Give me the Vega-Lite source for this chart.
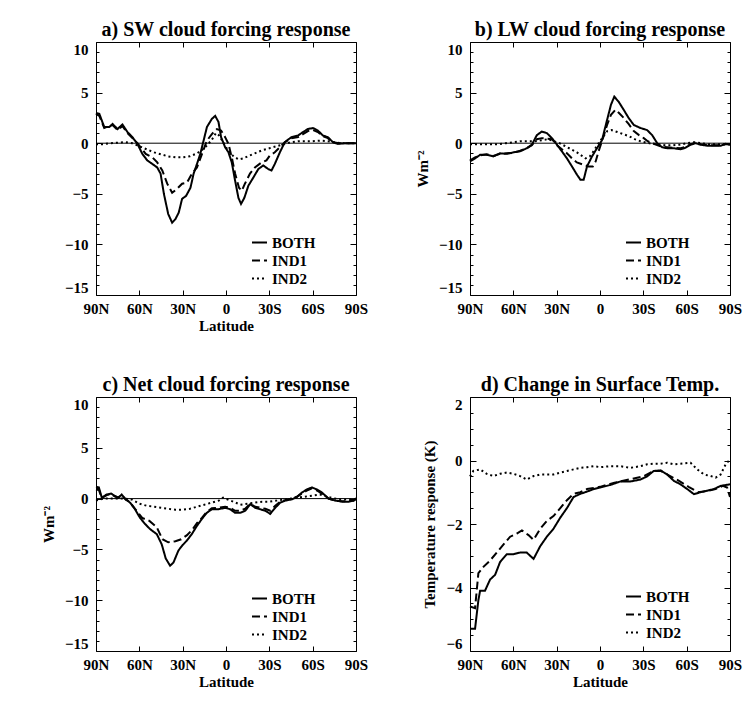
{
  "$schema": "https://vega.github.io/schema/vega-lite/v6.json",
  "background": "white",
  "padding": {"left": 40, "top": 19, "right": 5, "bottom": 5},
  "datasets": {
    "a": [
      {"lat":90,"v":3.0,"s":"BOTH"},{"lat":87.7,"v":2.9,"s":"BOTH"},{"lat":84.3,"v":1.6,"s":"BOTH"},{"lat":80.8,"v":1.6,"s":"BOTH"},{"lat":78.5,"v":1.9,"s":"BOTH"},{"lat":75.1,"v":1.4,"s":"BOTH"},{"lat":71.7,"v":1.85,"s":"BOTH"},{"lat":68.2,"v":1.1,"s":"BOTH"},{"lat":64.8,"v":0.6,"s":"BOTH"},{"lat":61.3,"v":-0.07,"s":"BOTH"},{"lat":57.9,"v":-1.06,"s":"BOTH"},{"lat":54.5,"v":-1.7,"s":"BOTH"},{"lat":51,"v":-2.05,"s":"BOTH"},{"lat":47.6,"v":-2.4,"s":"BOTH"},{"lat":45.3,"v":-3.0,"s":"BOTH"},{"lat":43,"v":-5.0,"s":"BOTH"},{"lat":40,"v":-7.0,"s":"BOTH"},{"lat":37.3,"v":-7.85,"s":"BOTH"},{"lat":35,"v":-7.5,"s":"BOTH"},{"lat":32.7,"v":-6.85,"s":"BOTH"},{"lat":30.4,"v":-5.5,"s":"BOTH"},{"lat":27.6,"v":-5.2,"s":"BOTH"},{"lat":24.6,"v":-4.4,"s":"BOTH"},{"lat":22.4,"v":-3.0,"s":"BOTH"},{"lat":20.1,"v":-2.05,"s":"BOTH"},{"lat":17.8,"v":-1.06,"s":"BOTH"},{"lat":15.5,"v":0.26,"s":"BOTH"},{"lat":13.2,"v":1.6,"s":"BOTH"},{"lat":9.8,"v":2.4,"s":"BOTH"},{"lat":7.5,"v":2.7,"s":"BOTH"},{"lat":5.2,"v":2.1,"s":"BOTH"},{"lat":3.4,"v":0.6,"s":"BOTH"},{"lat":0.6,"v":-0.4,"s":"BOTH"},{"lat":-1.7,"v":-0.9,"s":"BOTH"},{"lat":-4,"v":-1.9,"s":"BOTH"},{"lat":-6.3,"v":-3.7,"s":"BOTH"},{"lat":-8.6,"v":-5.4,"s":"BOTH"},{"lat":-10.4,"v":-6.0,"s":"BOTH"},{"lat":-12.7,"v":-5.4,"s":"BOTH"},{"lat":-15.5,"v":-4.2,"s":"BOTH"},{"lat":-18.9,"v":-3.4,"s":"BOTH"},{"lat":-22.4,"v":-2.55,"s":"BOTH"},{"lat":-25.8,"v":-2.2,"s":"BOTH"},{"lat":-29.2,"v":-2.55,"s":"BOTH"},{"lat":-31.5,"v":-2.7,"s":"BOTH"},{"lat":-33.8,"v":-2.05,"s":"BOTH"},{"lat":-37.3,"v":-0.9,"s":"BOTH"},{"lat":-40.7,"v":0.1,"s":"BOTH"},{"lat":-45.3,"v":0.6,"s":"BOTH"},{"lat":-49.9,"v":0.76,"s":"BOTH"},{"lat":-53.3,"v":1.1,"s":"BOTH"},{"lat":-56.7,"v":1.4,"s":"BOTH"},{"lat":-60.2,"v":1.5,"s":"BOTH"},{"lat":-63.6,"v":1.25,"s":"BOTH"},{"lat":-67.1,"v":0.76,"s":"BOTH"},{"lat":-70.5,"v":0.6,"s":"BOTH"},{"lat":-74,"v":0.1,"s":"BOTH"},{"lat":-77.4,"v":-0.07,"s":"BOTH"},{"lat":-82,"v":0,"s":"BOTH"},{"lat":-90,"v":0,"s":"BOTH"},
      {"lat":90,"v":2.9,"s":"IND1"},{"lat":87.7,"v":2.7,"s":"IND1"},{"lat":84.3,"v":1.5,"s":"IND1"},{"lat":80.8,"v":1.7,"s":"IND1"},{"lat":78.5,"v":1.8,"s":"IND1"},{"lat":75.1,"v":1.3,"s":"IND1"},{"lat":71.7,"v":1.7,"s":"IND1"},{"lat":68.2,"v":1.0,"s":"IND1"},{"lat":64.8,"v":0.5,"s":"IND1"},{"lat":61.3,"v":0,"s":"IND1"},{"lat":55.6,"v":-1.06,"s":"IND1"},{"lat":51,"v":-1.4,"s":"IND1"},{"lat":47.6,"v":-1.9,"s":"IND1"},{"lat":44.1,"v":-2.7,"s":"IND1"},{"lat":40.7,"v":-4.0,"s":"IND1"},{"lat":37.3,"v":-4.9,"s":"IND1"},{"lat":33.8,"v":-4.5,"s":"IND1"},{"lat":30.4,"v":-4.0,"s":"IND1"},{"lat":27,"v":-3.9,"s":"IND1"},{"lat":23.5,"v":-3.0,"s":"IND1"},{"lat":20.1,"v":-2.4,"s":"IND1"},{"lat":16.6,"v":-1.06,"s":"IND1"},{"lat":13.2,"v":0.26,"s":"IND1"},{"lat":9.8,"v":0.9,"s":"IND1"},{"lat":6.3,"v":1.4,"s":"IND1"},{"lat":3.4,"v":1.25,"s":"IND1"},{"lat":0.6,"v":0.6,"s":"IND1"},{"lat":-1.7,"v":-0.07,"s":"IND1"},{"lat":-4,"v":-1.4,"s":"IND1"},{"lat":-6.3,"v":-3.0,"s":"IND1"},{"lat":-9,"v":-4.4,"s":"IND1"},{"lat":-10.9,"v":-4.7,"s":"IND1"},{"lat":-13.1,"v":-4.0,"s":"IND1"},{"lat":-16.6,"v":-3.0,"s":"IND1"},{"lat":-20,"v":-2.4,"s":"IND1"},{"lat":-24.6,"v":-1.9,"s":"IND1"},{"lat":-28,"v":-1.7,"s":"IND1"},{"lat":-30.4,"v":-1.2,"s":"IND1"},{"lat":-33.8,"v":-0.9,"s":"IND1"},{"lat":-37.3,"v":-0.4,"s":"IND1"},{"lat":-40.7,"v":0.1,"s":"IND1"},{"lat":-45.3,"v":0.5,"s":"IND1"},{"lat":-49.9,"v":0.6,"s":"IND1"},{"lat":-53.3,"v":0.9,"s":"IND1"},{"lat":-56.7,"v":1.2,"s":"IND1"},{"lat":-60.2,"v":1.3,"s":"IND1"},{"lat":-63.6,"v":1.1,"s":"IND1"},{"lat":-67.1,"v":0.7,"s":"IND1"},{"lat":-70.5,"v":0.5,"s":"IND1"},{"lat":-74,"v":0.1,"s":"IND1"},{"lat":-78,"v":0,"s":"IND1"},{"lat":-90,"v":0,"s":"IND1"},
      {"lat":90,"v":-0.1,"s":"IND2"},{"lat":85,"v":-0.1,"s":"IND2"},{"lat":80,"v":0,"s":"IND2"},{"lat":75,"v":0.05,"s":"IND2"},{"lat":70,"v":0.1,"s":"IND2"},{"lat":65,"v":0,"s":"IND2"},{"lat":60,"v":-0.3,"s":"IND2"},{"lat":55,"v":-0.6,"s":"IND2"},{"lat":50,"v":-0.9,"s":"IND2"},{"lat":45,"v":-1.1,"s":"IND2"},{"lat":40,"v":-1.3,"s":"IND2"},{"lat":35,"v":-1.4,"s":"IND2"},{"lat":30,"v":-1.4,"s":"IND2"},{"lat":25,"v":-1.3,"s":"IND2"},{"lat":20,"v":-1.0,"s":"IND2"},{"lat":15,"v":-0.5,"s":"IND2"},{"lat":10,"v":0.3,"s":"IND2"},{"lat":7,"v":1.0,"s":"IND2"},{"lat":5,"v":0.8,"s":"IND2"},{"lat":2,"v":0.1,"s":"IND2"},{"lat":0,"v":-0.4,"s":"IND2"},{"lat":-3,"v":-1.0,"s":"IND2"},{"lat":-6,"v":-1.4,"s":"IND2"},{"lat":-9,"v":-1.6,"s":"IND2"},{"lat":-12,"v":-1.5,"s":"IND2"},{"lat":-15,"v":-1.3,"s":"IND2"},{"lat":-20,"v":-1.0,"s":"IND2"},{"lat":-25,"v":-0.7,"s":"IND2"},{"lat":-30,"v":-0.5,"s":"IND2"},{"lat":-35,"v":-0.3,"s":"IND2"},{"lat":-40,"v":-0.1,"s":"IND2"},{"lat":-45,"v":0.1,"s":"IND2"},{"lat":-50,"v":0.2,"s":"IND2"},{"lat":-55,"v":0.2,"s":"IND2"},{"lat":-60,"v":0.2,"s":"IND2"},{"lat":-65,"v":0.25,"s":"IND2"},{"lat":-70,"v":0.2,"s":"IND2"},{"lat":-75,"v":0.1,"s":"IND2"},{"lat":-80,"v":0,"s":"IND2"},{"lat":-90,"v":0,"s":"IND2"}
    ],
    "b": [
      {"lat":90,"v":-1.8,"s":"BOTH"},{"lat":86.5,"v":-1.5,"s":"BOTH"},{"lat":83,"v":-1.15,"s":"BOTH"},{"lat":78.4,"v":-1.15,"s":"BOTH"},{"lat":73.8,"v":-1.3,"s":"BOTH"},{"lat":69.2,"v":-1.0,"s":"BOTH"},{"lat":64.5,"v":-1.05,"s":"BOTH"},{"lat":59.9,"v":-0.9,"s":"BOTH"},{"lat":55.3,"v":-0.8,"s":"BOTH"},{"lat":50.7,"v":-0.5,"s":"BOTH"},{"lat":47.2,"v":-0.15,"s":"BOTH"},{"lat":43.7,"v":0.8,"s":"BOTH"},{"lat":40.3,"v":1.15,"s":"BOTH"},{"lat":36.8,"v":1.0,"s":"BOTH"},{"lat":33.3,"v":0.5,"s":"BOTH"},{"lat":29.8,"v":-0.15,"s":"BOTH"},{"lat":26.4,"v":-0.8,"s":"BOTH"},{"lat":22.9,"v":-1.5,"s":"BOTH"},{"lat":19.4,"v":-2.3,"s":"BOTH"},{"lat":16,"v":-3.1,"s":"BOTH"},{"lat":13.6,"v":-3.6,"s":"BOTH"},{"lat":11.3,"v":-3.6,"s":"BOTH"},{"lat":9,"v":-2.3,"s":"BOTH"},{"lat":5.5,"v":-1.3,"s":"BOTH"},{"lat":2.1,"v":-0.5,"s":"BOTH"},{"lat":-1.4,"v":0.3,"s":"BOTH"},{"lat":-4.9,"v":2.3,"s":"BOTH"},{"lat":-7.6,"v":3.8,"s":"BOTH"},{"lat":-9.9,"v":4.6,"s":"BOTH"},{"lat":-12.9,"v":4.1,"s":"BOTH"},{"lat":-16.4,"v":3.3,"s":"BOTH"},{"lat":-19.8,"v":2.5,"s":"BOTH"},{"lat":-23.4,"v":1.8,"s":"BOTH"},{"lat":-28,"v":1.5,"s":"BOTH"},{"lat":-32.6,"v":1.3,"s":"BOTH"},{"lat":-36.1,"v":0.8,"s":"BOTH"},{"lat":-39.6,"v":0,"s":"BOTH"},{"lat":-43,"v":-0.4,"s":"BOTH"},{"lat":-46.5,"v":-0.5,"s":"BOTH"},{"lat":-51.1,"v":-0.5,"s":"BOTH"},{"lat":-55.8,"v":-0.6,"s":"BOTH"},{"lat":-59.2,"v":-0.45,"s":"BOTH"},{"lat":-62.7,"v":-0.15,"s":"BOTH"},{"lat":-66.2,"v":0,"s":"BOTH"},{"lat":-69.7,"v":-0.15,"s":"BOTH"},{"lat":-74.3,"v":-0.25,"s":"BOTH"},{"lat":-78.9,"v":-0.25,"s":"BOTH"},{"lat":-83.5,"v":-0.25,"s":"BOTH"},{"lat":-87,"v":-0.05,"s":"BOTH"},{"lat":-90,"v":-0.15,"s":"BOTH"},
      {"lat":90,"v":-1.7,"s":"IND1"},{"lat":86.5,"v":-1.4,"s":"IND1"},{"lat":83,"v":-1.2,"s":"IND1"},{"lat":78.4,"v":-1.1,"s":"IND1"},{"lat":73.8,"v":-1.25,"s":"IND1"},{"lat":69.2,"v":-1.05,"s":"IND1"},{"lat":64.5,"v":-1.0,"s":"IND1"},{"lat":59.9,"v":-0.95,"s":"IND1"},{"lat":55.3,"v":-0.75,"s":"IND1"},{"lat":50.7,"v":-0.5,"s":"IND1"},{"lat":47.2,"v":-0.2,"s":"IND1"},{"lat":43.7,"v":0.4,"s":"IND1"},{"lat":40.3,"v":0.5,"s":"IND1"},{"lat":36.8,"v":0.45,"s":"IND1"},{"lat":33.3,"v":0.4,"s":"IND1"},{"lat":29.8,"v":-0.2,"s":"IND1"},{"lat":26.4,"v":-0.6,"s":"IND1"},{"lat":22.9,"v":-1.0,"s":"IND1"},{"lat":19.4,"v":-1.5,"s":"IND1"},{"lat":16,"v":-1.9,"s":"IND1"},{"lat":12,"v":-2.1,"s":"IND1"},{"lat":8,"v":-2.3,"s":"IND1"},{"lat":5,"v":-2.3,"s":"IND1"},{"lat":3,"v":-1.8,"s":"IND1"},{"lat":1,"v":-0.8,"s":"IND1"},{"lat":-1.4,"v":0.2,"s":"IND1"},{"lat":-4.9,"v":1.8,"s":"IND1"},{"lat":-7.6,"v":2.8,"s":"IND1"},{"lat":-10.7,"v":3.3,"s":"IND1"},{"lat":-13,"v":3.0,"s":"IND1"},{"lat":-16.4,"v":2.5,"s":"IND1"},{"lat":-19.8,"v":1.9,"s":"IND1"},{"lat":-23.4,"v":1.2,"s":"IND1"},{"lat":-27,"v":0.8,"s":"IND1"},{"lat":-30.3,"v":0.5,"s":"IND1"},{"lat":-33,"v":0.2,"s":"IND1"},{"lat":-36,"v":0.0,"s":"IND1"},{"lat":-40,"v":-0.2,"s":"IND1"},{"lat":-43,"v":-0.35,"s":"IND1"},{"lat":-46.5,"v":-0.4,"s":"IND1"},{"lat":-51,"v":-0.45,"s":"IND1"},{"lat":-55.8,"v":-0.5,"s":"IND1"},{"lat":-59.2,"v":-0.35,"s":"IND1"},{"lat":-62.7,"v":-0.1,"s":"IND1"},{"lat":-66.2,"v":0.05,"s":"IND1"},{"lat":-69.7,"v":-0.1,"s":"IND1"},{"lat":-74.3,"v":-0.2,"s":"IND1"},{"lat":-78.9,"v":-0.2,"s":"IND1"},{"lat":-83.5,"v":-0.2,"s":"IND1"},{"lat":-87,"v":-0.1,"s":"IND1"},{"lat":-90,"v":-0.1,"s":"IND1"},
      {"lat":90,"v":-0.1,"s":"IND2"},{"lat":80,"v":-0.1,"s":"IND2"},{"lat":70,"v":-0.1,"s":"IND2"},{"lat":65,"v":0,"s":"IND2"},{"lat":60,"v":0.1,"s":"IND2"},{"lat":55,"v":0.2,"s":"IND2"},{"lat":50,"v":0.2,"s":"IND2"},{"lat":45,"v":0.2,"s":"IND2"},{"lat":40,"v":0.3,"s":"IND2"},{"lat":36,"v":0.4,"s":"IND2"},{"lat":32,"v":0.2,"s":"IND2"},{"lat":28,"v":0,"s":"IND2"},{"lat":24,"v":-0.3,"s":"IND2"},{"lat":20,"v":-0.6,"s":"IND2"},{"lat":16,"v":-0.9,"s":"IND2"},{"lat":13,"v":-1.2,"s":"IND2"},{"lat":10,"v":-1.5,"s":"IND2"},{"lat":7,"v":-1.3,"s":"IND2"},{"lat":4,"v":-0.7,"s":"IND2"},{"lat":1,"v":0,"s":"IND2"},{"lat":-2,"v":0.6,"s":"IND2"},{"lat":-5,"v":1.2,"s":"IND2"},{"lat":-8,"v":1.3,"s":"IND2"},{"lat":-12,"v":1.1,"s":"IND2"},{"lat":-16,"v":0.9,"s":"IND2"},{"lat":-20,"v":0.7,"s":"IND2"},{"lat":-24,"v":0.4,"s":"IND2"},{"lat":-28,"v":0.2,"s":"IND2"},{"lat":-32,"v":0.05,"s":"IND2"},{"lat":-36,"v":-0.05,"s":"IND2"},{"lat":-40,"v":-0.1,"s":"IND2"},{"lat":-45,"v":-0.2,"s":"IND2"},{"lat":-50,"v":-0.2,"s":"IND2"},{"lat":-55,"v":-0.15,"s":"IND2"},{"lat":-60,"v":0,"s":"IND2"},{"lat":-65,"v":0.1,"s":"IND2"},{"lat":-70,"v":0,"s":"IND2"},{"lat":-75,"v":-0.1,"s":"IND2"},{"lat":-80,"v":-0.1,"s":"IND2"},{"lat":-90,"v":-0.1,"s":"IND2"}
    ],
    "c": [
      {"lat":90,"v":1.15,"s":"BOTH"},{"lat":88,"v":1.1,"s":"BOTH"},{"lat":86,"v":0.1,"s":"BOTH"},{"lat":82.6,"v":0.4,"s":"BOTH"},{"lat":79.6,"v":0.5,"s":"BOTH"},{"lat":76.8,"v":0.25,"s":"BOTH"},{"lat":74.5,"v":0.1,"s":"BOTH"},{"lat":72.2,"v":0.4,"s":"BOTH"},{"lat":69.4,"v":-0.07,"s":"BOTH"},{"lat":66.4,"v":-0.4,"s":"BOTH"},{"lat":63,"v":-1.05,"s":"BOTH"},{"lat":59.5,"v":-1.9,"s":"BOTH"},{"lat":56,"v":-2.5,"s":"BOTH"},{"lat":52.6,"v":-3.0,"s":"BOTH"},{"lat":47.9,"v":-3.5,"s":"BOTH"},{"lat":44.5,"v":-4.5,"s":"BOTH"},{"lat":41.7,"v":-5.9,"s":"BOTH"},{"lat":38.7,"v":-6.6,"s":"BOTH"},{"lat":36.4,"v":-6.3,"s":"BOTH"},{"lat":32.9,"v":-5.1,"s":"BOTH"},{"lat":30.2,"v":-4.6,"s":"BOTH"},{"lat":27.2,"v":-4.15,"s":"BOTH"},{"lat":23.7,"v":-3.5,"s":"BOTH"},{"lat":20.2,"v":-2.7,"s":"BOTH"},{"lat":16.7,"v":-2.0,"s":"BOTH"},{"lat":13.3,"v":-1.4,"s":"BOTH"},{"lat":9.8,"v":-1.05,"s":"BOTH"},{"lat":5.2,"v":-1.05,"s":"BOTH"},{"lat":0.6,"v":-0.9,"s":"BOTH"},{"lat":-2.9,"v":-1.05,"s":"BOTH"},{"lat":-6.3,"v":-1.4,"s":"BOTH"},{"lat":-9.8,"v":-1.4,"s":"BOTH"},{"lat":-13.3,"v":-1.2,"s":"BOTH"},{"lat":-16.8,"v":-0.55,"s":"BOTH"},{"lat":-20.2,"v":-0.9,"s":"BOTH"},{"lat":-23.7,"v":-1.05,"s":"BOTH"},{"lat":-27.2,"v":-1.2,"s":"BOTH"},{"lat":-30.6,"v":-1.5,"s":"BOTH"},{"lat":-34.1,"v":-0.9,"s":"BOTH"},{"lat":-37.5,"v":-0.4,"s":"BOTH"},{"lat":-41,"v":-0.2,"s":"BOTH"},{"lat":-45.6,"v":-0.07,"s":"BOTH"},{"lat":-49.1,"v":0.15,"s":"BOTH"},{"lat":-52.6,"v":0.6,"s":"BOTH"},{"lat":-56,"v":0.9,"s":"BOTH"},{"lat":-59.5,"v":1.1,"s":"BOTH"},{"lat":-62.9,"v":0.9,"s":"BOTH"},{"lat":-66.4,"v":0.6,"s":"BOTH"},{"lat":-71,"v":0,"s":"BOTH"},{"lat":-75.7,"v":-0.2,"s":"BOTH"},{"lat":-80.3,"v":-0.3,"s":"BOTH"},{"lat":-84.9,"v":-0.3,"s":"BOTH"},{"lat":-88.4,"v":-0.2,"s":"BOTH"},{"lat":-90,"v":0.05,"s":"BOTH"},
      {"lat":90,"v":0.9,"s":"IND1"},{"lat":88,"v":0.85,"s":"IND1"},{"lat":86,"v":0.05,"s":"IND1"},{"lat":82.6,"v":0.35,"s":"IND1"},{"lat":79.6,"v":0.45,"s":"IND1"},{"lat":76.8,"v":0.2,"s":"IND1"},{"lat":74.5,"v":0.1,"s":"IND1"},{"lat":72.2,"v":0.35,"s":"IND1"},{"lat":69.4,"v":-0.1,"s":"IND1"},{"lat":66.4,"v":-0.35,"s":"IND1"},{"lat":63,"v":-1.0,"s":"IND1"},{"lat":58,"v":-1.9,"s":"IND1"},{"lat":53,"v":-2.2,"s":"IND1"},{"lat":48,"v":-2.8,"s":"IND1"},{"lat":44,"v":-4.0,"s":"IND1"},{"lat":40,"v":-4.3,"s":"IND1"},{"lat":35,"v":-4.2,"s":"IND1"},{"lat":31,"v":-4.0,"s":"IND1"},{"lat":27,"v":-3.6,"s":"IND1"},{"lat":23,"v":-3.0,"s":"IND1"},{"lat":20,"v":-2.4,"s":"IND1"},{"lat":16.7,"v":-1.9,"s":"IND1"},{"lat":13.3,"v":-1.3,"s":"IND1"},{"lat":9.8,"v":-0.95,"s":"IND1"},{"lat":5.2,"v":-0.9,"s":"IND1"},{"lat":0.6,"v":-0.8,"s":"IND1"},{"lat":-2.9,"v":-0.9,"s":"IND1"},{"lat":-6.3,"v":-1.2,"s":"IND1"},{"lat":-9.8,"v":-1.2,"s":"IND1"},{"lat":-13.3,"v":-1.0,"s":"IND1"},{"lat":-16.8,"v":-0.5,"s":"IND1"},{"lat":-20.2,"v":-0.8,"s":"IND1"},{"lat":-23.7,"v":-0.9,"s":"IND1"},{"lat":-27.2,"v":-1.0,"s":"IND1"},{"lat":-30.6,"v":-1.2,"s":"IND1"},{"lat":-34.1,"v":-0.7,"s":"IND1"},{"lat":-37.5,"v":-0.3,"s":"IND1"},{"lat":-41,"v":-0.15,"s":"IND1"},{"lat":-45.6,"v":0,"s":"IND1"},{"lat":-49.1,"v":0.2,"s":"IND1"},{"lat":-52.6,"v":0.5,"s":"IND1"},{"lat":-56,"v":0.8,"s":"IND1"},{"lat":-59.5,"v":1.0,"s":"IND1"},{"lat":-62.9,"v":0.8,"s":"IND1"},{"lat":-66.4,"v":0.5,"s":"IND1"},{"lat":-71,"v":0,"s":"IND1"},{"lat":-75.7,"v":-0.2,"s":"IND1"},{"lat":-80.3,"v":-0.25,"s":"IND1"},{"lat":-84.9,"v":-0.25,"s":"IND1"},{"lat":-88.4,"v":-0.2,"s":"IND1"},{"lat":-90,"v":0,"s":"IND1"},
      {"lat":90,"v":-0.2,"s":"IND2"},{"lat":85,"v":0,"s":"IND2"},{"lat":78,"v":0,"s":"IND2"},{"lat":70,"v":0,"s":"IND2"},{"lat":65,"v":-0.1,"s":"IND2"},{"lat":60,"v":-0.5,"s":"IND2"},{"lat":55,"v":-0.7,"s":"IND2"},{"lat":50,"v":-0.8,"s":"IND2"},{"lat":45,"v":-0.9,"s":"IND2"},{"lat":40,"v":-1.0,"s":"IND2"},{"lat":35,"v":-1.1,"s":"IND2"},{"lat":30,"v":-1.1,"s":"IND2"},{"lat":25,"v":-1.0,"s":"IND2"},{"lat":20,"v":-0.8,"s":"IND2"},{"lat":15,"v":-0.6,"s":"IND2"},{"lat":10,"v":-0.4,"s":"IND2"},{"lat":5,"v":-0.2,"s":"IND2"},{"lat":2,"v":0.1,"s":"IND2"},{"lat":-5,"v":-0.3,"s":"IND2"},{"lat":-10,"v":-0.6,"s":"IND2"},{"lat":-15,"v":-0.5,"s":"IND2"},{"lat":-20,"v":-0.4,"s":"IND2"},{"lat":-25,"v":-0.3,"s":"IND2"},{"lat":-30,"v":-0.3,"s":"IND2"},{"lat":-35,"v":-0.2,"s":"IND2"},{"lat":-40,"v":-0.1,"s":"IND2"},{"lat":-50,"v":0.1,"s":"IND2"},{"lat":-60,"v":0.3,"s":"IND2"},{"lat":-65,"v":0.4,"s":"IND2"},{"lat":-70,"v":0.2,"s":"IND2"},{"lat":-75,"v":0,"s":"IND2"},{"lat":-80,"v":-0.1,"s":"IND2"},{"lat":-90,"v":-0.1,"s":"IND2"}
    ],
    "d": [
      {"lat":90,"v":-5.3,"s":"BOTH"},{"lat":86.5,"v":-5.3,"s":"BOTH"},{"lat":84.2,"v":-4.4,"s":"BOTH"},{"lat":83,"v":-4.1,"s":"BOTH"},{"lat":79.6,"v":-4.1,"s":"BOTH"},{"lat":76.1,"v":-3.75,"s":"BOTH"},{"lat":72.6,"v":-3.6,"s":"BOTH"},{"lat":69.2,"v":-3.2,"s":"BOTH"},{"lat":64.5,"v":-2.95,"s":"BOTH"},{"lat":59.9,"v":-2.95,"s":"BOTH"},{"lat":55.3,"v":-2.9,"s":"BOTH"},{"lat":50.7,"v":-2.9,"s":"BOTH"},{"lat":46,"v":-3.1,"s":"BOTH"},{"lat":41.4,"v":-2.7,"s":"BOTH"},{"lat":36.8,"v":-2.4,"s":"BOTH"},{"lat":32.2,"v":-2.15,"s":"BOTH"},{"lat":27.5,"v":-1.8,"s":"BOTH"},{"lat":22.9,"v":-1.5,"s":"BOTH"},{"lat":18.3,"v":-1.15,"s":"BOTH"},{"lat":13.6,"v":-1.05,"s":"BOTH"},{"lat":9,"v":-0.98,"s":"BOTH"},{"lat":4.4,"v":-0.9,"s":"BOTH"},{"lat":-0.2,"v":-0.85,"s":"BOTH"},{"lat":-7.2,"v":-0.77,"s":"BOTH"},{"lat":-14.1,"v":-0.66,"s":"BOTH"},{"lat":-21,"v":-0.66,"s":"BOTH"},{"lat":-28,"v":-0.6,"s":"BOTH"},{"lat":-32.6,"v":-0.5,"s":"BOTH"},{"lat":-37.2,"v":-0.33,"s":"BOTH"},{"lat":-41.9,"v":-0.31,"s":"BOTH"},{"lat":-46.5,"v":-0.44,"s":"BOTH"},{"lat":-51.1,"v":-0.64,"s":"BOTH"},{"lat":-55.7,"v":-0.75,"s":"BOTH"},{"lat":-60.4,"v":-0.9,"s":"BOTH"},{"lat":-65,"v":-1.06,"s":"BOTH"},{"lat":-69.6,"v":-1.0,"s":"BOTH"},{"lat":-74.3,"v":-0.95,"s":"BOTH"},{"lat":-78.9,"v":-0.9,"s":"BOTH"},{"lat":-83.5,"v":-0.8,"s":"BOTH"},{"lat":-90,"v":-0.75,"s":"BOTH"},
      {"lat":90,"v":-4.6,"s":"IND1"},{"lat":86.5,"v":-4.65,"s":"IND1"},{"lat":84.2,"v":-3.55,"s":"IND1"},{"lat":80.7,"v":-3.35,"s":"IND1"},{"lat":76.1,"v":-3.15,"s":"IND1"},{"lat":71.5,"v":-2.9,"s":"IND1"},{"lat":66.9,"v":-2.65,"s":"IND1"},{"lat":62.2,"v":-2.4,"s":"IND1"},{"lat":57.6,"v":-2.3,"s":"IND1"},{"lat":54.1,"v":-2.2,"s":"IND1"},{"lat":49.5,"v":-2.35,"s":"IND1"},{"lat":46,"v":-2.5,"s":"IND1"},{"lat":41.4,"v":-2.15,"s":"IND1"},{"lat":36.8,"v":-1.9,"s":"IND1"},{"lat":32.2,"v":-1.75,"s":"IND1"},{"lat":27.5,"v":-1.5,"s":"IND1"},{"lat":22.9,"v":-1.25,"s":"IND1"},{"lat":18.3,"v":-1.05,"s":"IND1"},{"lat":13.6,"v":-1.0,"s":"IND1"},{"lat":9,"v":-0.9,"s":"IND1"},{"lat":0,"v":-0.83,"s":"IND1"},{"lat":-10,"v":-0.7,"s":"IND1"},{"lat":-20,"v":-0.6,"s":"IND1"},{"lat":-30,"v":-0.5,"s":"IND1"},{"lat":-37,"v":-0.33,"s":"IND1"},{"lat":-42,"v":-0.33,"s":"IND1"},{"lat":-47,"v":-0.45,"s":"IND1"},{"lat":-55,"v":-0.65,"s":"IND1"},{"lat":-62,"v":-0.85,"s":"IND1"},{"lat":-68,"v":-1.0,"s":"IND1"},{"lat":-75,"v":-0.95,"s":"IND1"},{"lat":-80,"v":-0.9,"s":"IND1"},{"lat":-85,"v":-0.8,"s":"IND1"},{"lat":-88,"v":-0.85,"s":"IND1"},{"lat":-90,"v":-1.15,"s":"IND1"},
      {"lat":90,"v":-0.5,"s":"IND2"},{"lat":87.7,"v":-0.33,"s":"IND2"},{"lat":83,"v":-0.28,"s":"IND2"},{"lat":78.4,"v":-0.42,"s":"IND2"},{"lat":73.8,"v":-0.49,"s":"IND2"},{"lat":69.2,"v":-0.42,"s":"IND2"},{"lat":64.5,"v":-0.38,"s":"IND2"},{"lat":59.9,"v":-0.42,"s":"IND2"},{"lat":55.3,"v":-0.49,"s":"IND2"},{"lat":50.7,"v":-0.6,"s":"IND2"},{"lat":46,"v":-0.49,"s":"IND2"},{"lat":41.4,"v":-0.44,"s":"IND2"},{"lat":36.8,"v":-0.44,"s":"IND2"},{"lat":32.2,"v":-0.44,"s":"IND2"},{"lat":27.5,"v":-0.38,"s":"IND2"},{"lat":22.9,"v":-0.33,"s":"IND2"},{"lat":18.3,"v":-0.28,"s":"IND2"},{"lat":13.6,"v":-0.23,"s":"IND2"},{"lat":9,"v":-0.21,"s":"IND2"},{"lat":4.4,"v":-0.18,"s":"IND2"},{"lat":-0.2,"v":-0.21,"s":"IND2"},{"lat":-7.2,"v":-0.18,"s":"IND2"},{"lat":-14.1,"v":-0.18,"s":"IND2"},{"lat":-21,"v":-0.23,"s":"IND2"},{"lat":-28,"v":-0.18,"s":"IND2"},{"lat":-32.6,"v":-0.12,"s":"IND2"},{"lat":-37.2,"v":-0.1,"s":"IND2"},{"lat":-41.9,"v":-0.1,"s":"IND2"},{"lat":-46.5,"v":-0.07,"s":"IND2"},{"lat":-51.1,"v":-0.12,"s":"IND2"},{"lat":-55.7,"v":-0.1,"s":"IND2"},{"lat":-62.7,"v":-0.07,"s":"IND2"},{"lat":-67.3,"v":-0.28,"s":"IND2"},{"lat":-72,"v":-0.44,"s":"IND2"},{"lat":-76.6,"v":-0.49,"s":"IND2"},{"lat":-80.1,"v":-0.54,"s":"IND2"},{"lat":-83.5,"v":-0.44,"s":"IND2"},{"lat":-87,"v":-0.12,"s":"IND2"},{"lat":-90,"v":0.03,"s":"IND2"}
    ]
  },
  "columns": 2,
  "spacing": {"row": 40, "column": 45},
  "resolve": {"scale": {"strokeDash": "independent"}, "legend": {"strokeDash": "independent"}},
  "concat": [
    {
      "data": {"name": "a"},
      "width": 260, "height": 253,
      "title": "a) SW cloud forcing response",
      "resolve": {"axis": {"x": "independent", "y": "independent"}},
      "layer": [
        {"data": {"values": [{}]}, "mark": {"type": "rule", "color": "black", "strokeWidth": 1}, "encoding": {"y": {"datum": 0, "axis": null}}},
        {"mark": {"type": "line", "color": "black", "strokeWidth": 2},
         "encoding": {
           "x": {"field": "lat", "type": "quantitative", "scale": {"domain": [-90, 90], "reverse": true, "nice": false},
                 "axis": {"orient": "bottom", "values": [-90,-60,-30,0,30,60,90], "labelExpr": "datum.value > 0 ? datum.value + 'N' : (datum.value < 0 ? (-datum.value) + 'S' : '0')", "tickSize": -5, "labelPadding": 11, "title": "Latitude", "titlePadding": 2, "labelFlush": false}},
           "y": {"field": "v", "type": "quantitative", "scale": {"domain": [-15, 10], "nice": false},
                 "axis": {"orient": "left", "values": [-15,-14,-13,-12,-11,-10,-9,-8,-7,-6,-5,-4,-3,-2,-1,0,1,2,3,4,5,6,7,8,9,10], "labelExpr": "datum.value % 5 === 0 ? format(datum.value, 'd') : ''", "tickSize": {"condition": {"test": "datum.value % 5 === 0", "value": -6}, "value": -3}, "labelPadding": 14, "labelFlush": true, "title": null}},
           "strokeDash": {"field": "s", "type": "nominal", "scale": {"domain": ["BOTH", "IND1", "IND2"], "range": [[1, 0], [8, 4], [2, 3]]}, "legend": {"legendX": 155, "legendY": 192}}
         }},
        {"mark": {"type": "point", "opacity": 0},
         "encoding": {
           "x": {"field": "lat", "type": "quantitative", "axis": {"orient": "top", "values": [-90,-60,-30,0,30,60,90], "labels": false, "tickSize": -5, "title": null}},
           "y": {"field": "v", "type": "quantitative", "axis": {"orient": "right", "values": [-15,-14,-13,-12,-11,-10,-9,-8,-7,-6,-5,-4,-3,-2,-1,0,1,2,3,4,5,6,7,8,9,10], "labels": false, "tickSize": {"condition": {"test": "datum.value % 5 === 0", "value": -6}, "value": -3}, "title": null}}
         }}
      ]
    },
    {
      "data": {"name": "b"},
      "width": 260, "height": 253,
      "title": "b) LW cloud forcing response",
      "resolve": {"axis": {"x": "independent", "y": "independent"}},
      "layer": [
        {"data": {"values": [{}]}, "mark": {"type": "rule", "color": "black", "strokeWidth": 1}, "encoding": {"y": {"datum": 0, "axis": null}}},
        {"mark": {"type": "line", "color": "black", "strokeWidth": 2},
         "encoding": {
           "x": {"field": "lat", "type": "quantitative", "scale": {"domain": [-90, 90], "reverse": true, "nice": false},
                 "axis": {"orient": "bottom", "values": [-90,-60,-30,0,30,60,90], "labelExpr": "datum.value > 0 ? datum.value + 'N' : (datum.value < 0 ? (-datum.value) + 'S' : '0')", "tickSize": -5, "labelPadding": 11, "title": null, "labelFlush": false}},
           "y": {"field": "v", "type": "quantitative", "scale": {"domain": [-15, 10], "nice": false},
                 "axis": {"orient": "left", "values": [-15,-14,-13,-12,-11,-10,-9,-8,-7,-6,-5,-4,-3,-2,-1,0,1,2,3,4,5,6,7,8,9,10], "labelExpr": "datum.value % 5 === 0 ? format(datum.value, 'd') : ''", "tickSize": {"condition": {"test": "datum.value % 5 === 0", "value": -6}, "value": -3}, "labelPadding": 14, "labelFlush": true, "title": "Wm⁻²", "titlePadding": 8}},
           "strokeDash": {"field": "s", "type": "nominal", "scale": {"domain": ["BOTH", "IND1", "IND2"], "range": [[1, 0], [8, 4], [2, 3]]}, "legend": {"legendX": 155, "legendY": 192}}
         }},
        {"mark": {"type": "point", "opacity": 0},
         "encoding": {
           "x": {"field": "lat", "type": "quantitative", "axis": {"orient": "top", "values": [-90,-60,-30,0,30,60,90], "labels": false, "tickSize": -5, "title": null}},
           "y": {"field": "v", "type": "quantitative", "axis": {"orient": "right", "values": [-15,-14,-13,-12,-11,-10,-9,-8,-7,-6,-5,-4,-3,-2,-1,0,1,2,3,4,5,6,7,8,9,10], "labels": false, "tickSize": {"condition": {"test": "datum.value % 5 === 0", "value": -6}, "value": -3}, "title": null}}
         }}
      ]
    },
    {
      "data": {"name": "c"},
      "width": 260, "height": 254,
      "title": "c) Net cloud forcing response",
      "resolve": {"axis": {"x": "independent", "y": "independent"}},
      "layer": [
        {"data": {"values": [{}]}, "mark": {"type": "rule", "color": "black", "strokeWidth": 1}, "encoding": {"y": {"datum": 0, "axis": null}}},
        {"mark": {"type": "line", "color": "black", "strokeWidth": 2},
         "encoding": {
           "x": {"field": "lat", "type": "quantitative", "scale": {"domain": [-90, 90], "reverse": true, "nice": false},
                 "axis": {"orient": "bottom", "values": [-90,-60,-30,0,30,60,90], "labelExpr": "datum.value > 0 ? datum.value + 'N' : (datum.value < 0 ? (-datum.value) + 'S' : '0')", "tickSize": -5, "labelPadding": 11, "title": "Latitude", "titlePadding": 2, "labelFlush": false}},
           "y": {"field": "v", "type": "quantitative", "scale": {"domain": [-15, 10], "nice": false},
                 "axis": {"orient": "left", "values": [-15,-14,-13,-12,-11,-10,-9,-8,-7,-6,-5,-4,-3,-2,-1,0,1,2,3,4,5,6,7,8,9,10], "labelExpr": "datum.value % 5 === 0 ? format(datum.value, 'd') : ''", "tickSize": {"condition": {"test": "datum.value % 5 === 0", "value": -6}, "value": -3}, "labelPadding": 14, "labelFlush": true, "title": "Wm⁻²", "titlePadding": 8}},
           "strokeDash": {"field": "s", "type": "nominal", "scale": {"domain": ["BOTH", "IND1", "IND2"], "range": [[1, 0], [8, 4], [2, 3]]}, "legend": {"legendX": 155, "legendY": 193}}
         }},
        {"mark": {"type": "point", "opacity": 0},
         "encoding": {
           "x": {"field": "lat", "type": "quantitative", "axis": {"orient": "top", "values": [-90,-60,-30,0,30,60,90], "labels": false, "tickSize": -5, "title": null}},
           "y": {"field": "v", "type": "quantitative", "axis": {"orient": "right", "values": [-15,-14,-13,-12,-11,-10,-9,-8,-7,-6,-5,-4,-3,-2,-1,0,1,2,3,4,5,6,7,8,9,10], "labels": false, "tickSize": {"condition": {"test": "datum.value % 5 === 0", "value": -6}, "value": -3}, "title": null}}
         }}
      ]
    },
    {
      "data": {"name": "d"},
      "width": 260, "height": 254,
      "title": "d) Change in Surface Temp.",
      "resolve": {"axis": {"x": "independent", "y": "independent"}},
      "layer": [
        {"mark": {"type": "line", "color": "black", "strokeWidth": 2},
         "encoding": {
           "x": {"field": "lat", "type": "quantitative", "scale": {"domain": [-90, 90], "reverse": true, "nice": false},
                 "axis": {"orient": "bottom", "values": [-90,-60,-30,0,30,60,90], "labelExpr": "datum.value > 0 ? datum.value + 'N' : (datum.value < 0 ? (-datum.value) + 'S' : '0')", "tickSize": -5, "labelPadding": 11, "title": "Latitude", "titlePadding": 2, "labelFlush": false}},
           "y": {"field": "v", "type": "quantitative", "scale": {"domain": [-6, 2], "nice": false},
                 "axis": {"orient": "left", "values": [-6,-5.5,-5,-4.5,-4,-3.5,-3,-2.5,-2,-1.5,-1,-0.5,0,0.5,1,1.5,2], "labelExpr": "datum.value % 2 === 0 ? format(datum.value, 'd') : ''", "tickSize": {"condition": {"test": "datum.value % 2 === 0", "value": -6}, "value": -3}, "labelPadding": 14, "labelFlush": true, "title": "Temperature response (K)", "titlePadding": 8}},
           "strokeDash": {"field": "s", "type": "nominal", "scale": {"domain": ["BOTH", "IND1", "IND2"], "range": [[1, 0], [8, 4], [2, 3]]}, "legend": {"legendX": 155, "legendY": 191}}
         }},
        {"mark": {"type": "point", "opacity": 0},
         "encoding": {
           "x": {"field": "lat", "type": "quantitative", "axis": {"orient": "top", "values": [-90,-60,-30,0,30,60,90], "labels": false, "tickSize": -5, "title": null}},
           "y": {"field": "v", "type": "quantitative", "axis": {"orient": "right", "values": [-6,-5.5,-5,-4.5,-4,-3.5,-3,-2.5,-2,-1.5,-1,-0.5,0,0.5,1,1.5,2], "labels": false, "tickSize": {"condition": {"test": "datum.value % 2 === 0", "value": -6}, "value": -3}, "title": null}}
         }}
      ]
    }
  ],
  "config": {
    "font": "Liberation Serif",
    "view": {"stroke": "black", "strokeWidth": 1},
    "axis": {"labelFont": "Liberation Serif", "labelFontWeight": "bold", "labelFontSize": 15, "labelColor": "black", "titleFont": "Liberation Serif", "titleFontWeight": "bold", "titleFontSize": 15, "titleColor": "black", "domain": false, "grid": false, "tickColor": "black", "tickWidth": 1, "labelOverlap": false},
    "title": {"font": "Liberation Serif", "fontWeight": "bold", "fontSize": 20, "color": "black", "anchor": "middle", "frame": "group", "offset": 2},
    "legend": {"title": null, "orient": "none", "symbolType": "stroke", "symbolSize": 225, "symbolStrokeWidth": 2, "symbolStrokeColor": "black", "labelFont": "Liberation Serif", "labelFontSize": 15, "labelFontWeight": "bold", "labelColor": "black", "rowPadding": 1, "labelOffset": 4, "padding": 0}
  }
}
